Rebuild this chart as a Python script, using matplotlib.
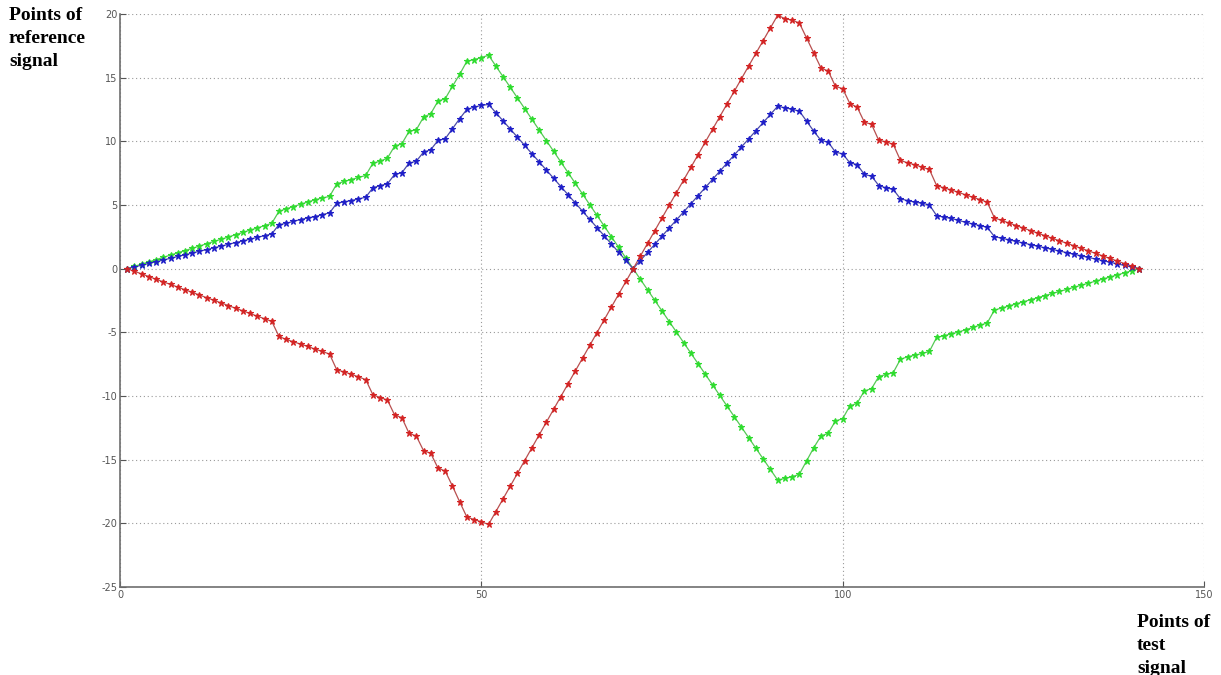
import matplotlib
matplotlib.use("Agg")
import matplotlib.pyplot as plt

plt.rcParams["axes.unicode_minus"] = False

# Sample index of the test signal (1-based, as produced by the alignment)
x_points = list(range(1, 142))

blue_path = [
    0.00, 0.14, 0.27, 0.41, 0.55, 0.68, 0.82, 0.96, 1.09, 1.23,
    1.37, 1.50, 1.64, 1.77, 1.91, 2.05, 2.18, 2.32, 2.46, 2.59,
    2.73, 3.46, 3.56, 3.72, 3.86, 3.99, 4.09, 4.25, 4.38, 5.14,
    5.25, 5.35, 5.48, 5.61, 6.35, 6.53, 6.66, 7.40, 7.53, 8.29,
    8.44, 9.15, 9.34, 10.07, 10.20, 10.99, 11.78, 12.51, 12.69, 12.82,
    12.90, 12.26, 11.61, 10.97, 10.32, 9.68, 9.03, 8.39, 7.74, 7.10,
    6.45, 5.81, 5.16, 4.52, 3.87, 3.23, 2.58, 1.94, 1.29, 0.65,
    0.00, 0.64, 1.28, 1.91, 2.55, 3.19, 3.83, 4.46, 5.10, 5.74,
    6.38, 7.01, 7.65, 8.29, 8.93, 9.56, 10.20, 10.84, 11.48, 12.11,
    12.75, 12.64, 12.51, 12.38, 11.59, 10.80, 10.07, 9.94, 9.15, 9.02,
    8.31, 8.18, 7.40, 7.26, 6.53, 6.35, 6.22, 5.48, 5.35, 5.22,
    5.14, 5.01, 4.17, 4.04, 3.95, 3.80, 3.64, 3.52, 3.38, 3.25,
    2.52, 2.39, 2.27, 2.14, 2.02, 1.89, 1.76, 1.64, 1.51, 1.39,
    1.26, 1.13, 1.01, 0.88, 0.76, 0.63, 0.50, 0.38, 0.25, 0.13,
    0.00,
]

green_path = [
    0.00, 0.18, 0.36, 0.53, 0.71, 0.89, 1.07, 1.25, 1.42, 1.60,
    1.78, 1.96, 2.14, 2.31, 2.49, 2.67, 2.85, 3.03, 3.20, 3.38,
    3.56, 4.51, 4.70, 4.88, 5.06, 5.25, 5.41, 5.56, 5.67, 6.66,
    6.85, 7.00, 7.16, 7.32, 8.29, 8.44, 8.68, 9.62, 9.81, 10.78,
    10.91, 11.90, 12.17, 13.16, 13.35, 14.32, 15.26, 16.29, 16.42, 16.58,
    16.76, 15.92, 15.08, 14.25, 13.41, 12.57, 11.73, 10.89, 10.06, 9.22,
    8.38, 7.54, 6.70, 5.87, 5.03, 4.19, 3.35, 2.51, 1.68, 0.84,
    0.00, -0.83, -1.66, -2.49, -3.32, -4.15, -4.98, -5.81, -6.64, -7.47,
    -8.30, -9.13, -9.96, -10.79, -11.62, -12.45, -13.28, -14.11, -14.94, -15.77,
    -16.60, -16.47, -16.34, -16.15, -15.10, -14.06, -13.14, -12.93, -11.96, -11.78,
    -10.78, -10.57, -9.60, -9.42, -8.47, -8.31, -8.16, -7.11, -6.92, -6.79,
    -6.66, -6.50, -5.40, -5.27, -5.12, -4.98, -4.80, -4.62, -4.43, -4.27,
    -3.25, -3.09, -2.93, -2.76, -2.60, -2.44, -2.28, -2.11, -1.95, -1.79,
    -1.63, -1.46, -1.30, -1.14, -0.98, -0.81, -0.65, -0.49, -0.33, -0.16,
    0.00,
]

red_path = [
    0.00, -0.21, -0.41, -0.62, -0.83, -1.04, -1.24, -1.45, -1.66, -1.86,
    -2.07, -2.28, -2.48, -2.69, -2.90, -3.11, -3.31, -3.52, -3.73, -3.93,
    -4.14, -5.32, -5.56, -5.74, -5.93, -6.11, -6.32, -6.50, -6.71, -7.95,
    -8.10, -8.29, -8.50, -8.71, -9.91, -10.12, -10.31, -11.49, -11.70, -12.93,
    -13.14, -14.29, -14.50, -15.66, -15.89, -17.07, -18.31, -19.51, -19.70, -19.88,
    -20.09, -19.09, -18.08, -17.08, -16.07, -15.07, -14.06, -13.06, -12.05, -11.05,
    -10.04, -9.04, -8.04, -7.03, -6.03, -5.02, -4.02, -3.01, -2.01, -1.00,
    0.00, 1.00, 1.99, 2.99, 3.98, 4.98, 5.97, 6.97, 7.96, 8.96,
    9.95, 10.95, 11.94, 12.94, 13.93, 14.93, 15.92, 16.92, 17.91, 18.91,
    19.90, 19.64, 19.51, 19.30, 18.12, 16.94, 15.76, 15.52, 14.32, 14.14,
    12.96, 12.69, 11.51, 11.33, 10.07, 9.97, 9.76, 8.50, 8.31, 8.16,
    7.97, 7.79, 6.53, 6.35, 6.19, 6.00, 5.80, 5.61, 5.43, 5.22,
    3.99, 3.79, 3.59, 3.39, 3.19, 2.99, 2.79, 2.59, 2.39, 2.19,
    2.00, 1.80, 1.60, 1.40, 1.20, 1.00, 0.80, 0.60, 0.40, 0.20,
    0.00,
]

x_ticks = [0, 50, 100, 150]
y_ticks = [-25, -20, -15, -10, -5, 0, 5, 10, 15, 20]

fig = plt.figure(figsize=(12.21, 6.75), dpi=100)
ax = fig.add_axes([120 / 1221, 1 - 587 / 675, (1204 - 120) / 1221, (587 - 14) / 675])

series = [
    (green_path, "#2fdc2f", "#56c856"),
    (blue_path, "#1f1fc8", "#4a4aa8"),
    (red_path, "#d42424", "#b85050"),
]
for values, mcolor, lcolor in series:
    ax.plot(x_points, values, "-", color=lcolor, linewidth=0.9, zorder=2)
    ax.plot(x_points, values, "*", color=mcolor, markersize=5,
            markeredgewidth=0.8, linestyle="none", zorder=3)

ax.set_xlim(0, 150)
ax.set_ylim(-25, 20)
ax.set_xticks(x_ticks)
ax.set_yticks(y_ticks)
ax.tick_params(direction="in", length=4, width=0.8, colors="#555555",
               labelsize=7, pad=2)
ax.grid(True, linestyle=(0, (1, 2.5)), color="#9a9a9a", linewidth=0.8)
for side in ("top", "right"):
    ax.spines[side].set_visible(False)
for side in ("left", "bottom"):
    ax.spines[side].set_color("#6e6e6e")
    ax.spines[side].set_linewidth(1.2)
ax.set_axisbelow(True)

label_style = dict(fontfamily="Liberation Serif", fontweight="bold",
                   fontsize=14, linespacing=1.45, va="top", ha="left")
fig.text(9 / 1221, 1 - 7 / 675, "Points of\nreference\nsignal", **label_style)
fig.text(1137 / 1221, 1 - 614 / 675, "Points of\ntest\nsignal", **label_style)

fig.savefig("out.png", dpi=100)
